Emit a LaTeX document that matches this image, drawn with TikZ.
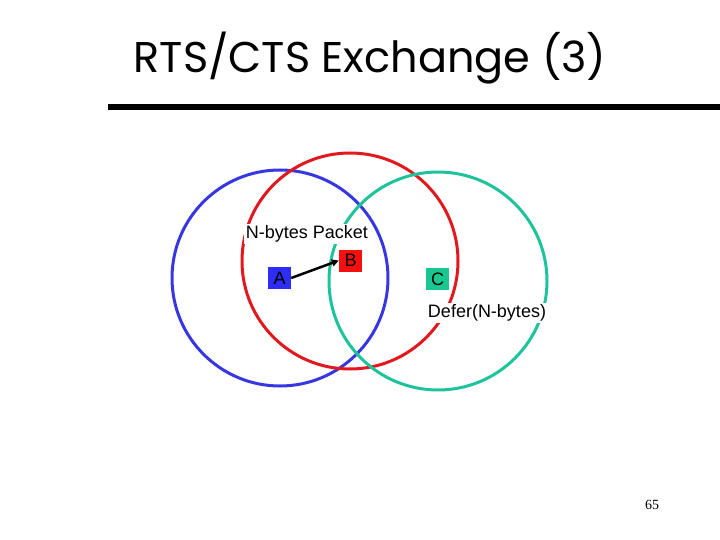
\documentclass[tikz,border=0pt]{standalone}
\usepackage{fontspec}
\setmainfont{Liberation Sans}
\newfontfamily\titlefont{Poppins}
\newfontfamily\numfont{Liberation Serif}
\usetikzlibrary{arrows.meta}
\definecolor{cblue}{RGB}{55,55,225}
\definecolor{cred}{RGB}{225,25,30}
\definecolor{cgreen}{RGB}{30,195,155}
\definecolor{fblue}{RGB}{45,45,245}
\definecolor{fred}{RGB}{245,15,15}
\definecolor{fgreen}{RGB}{25,200,145}
\tikzset{
  rangecircle/.style={line width=3pt},
  station/.style={minimum width=23pt, minimum height=22pt, inner sep=0pt, font=\fontsize{18}{18}\selectfont},
  lbl/.style={fill=white, inner xsep=2pt, inner ysep=1.5pt, font=\fontsize{18}{18}\selectfont},
}
\begin{document}
\begin{tikzpicture}[x=1pt,y=-1pt]
\useasboundingbox (0,0) rectangle (720,540);
\node[anchor=base, font=\titlefont\fontsize{43}{43}\selectfont] (title) at (370,73) {RTS/CTS Exchange (3)};
\fill (108,104) rectangle (720,110);
\draw[rangecircle, cblue] (280,278) circle (108);
\draw[rangecircle, cred] (350,261) circle (108);
\draw[rangecircle, cgreen] (438,281) circle (109);
\node[lbl] (pkt) at (307,234) {N-bytes Packet};
\node[lbl] (defer) at (487,313) {Defer(N-bytes)};
\node[station, fill=fblue] (A) at (279.5,278) {A};
\node[station, fill=fred] (B) at (350.5,260.5) {B};
\node[station, fill=fgreen] (C) at (437.5,279) {C};
\draw[line width=2.5pt, -{Triangle[length=7pt,width=7pt]}] (A.east) -- (B.west);
\node[font=\numfont\fontsize{14}{14}\selectfont] (num) at (652,505) {65};
\end{tikzpicture}
\end{document}
